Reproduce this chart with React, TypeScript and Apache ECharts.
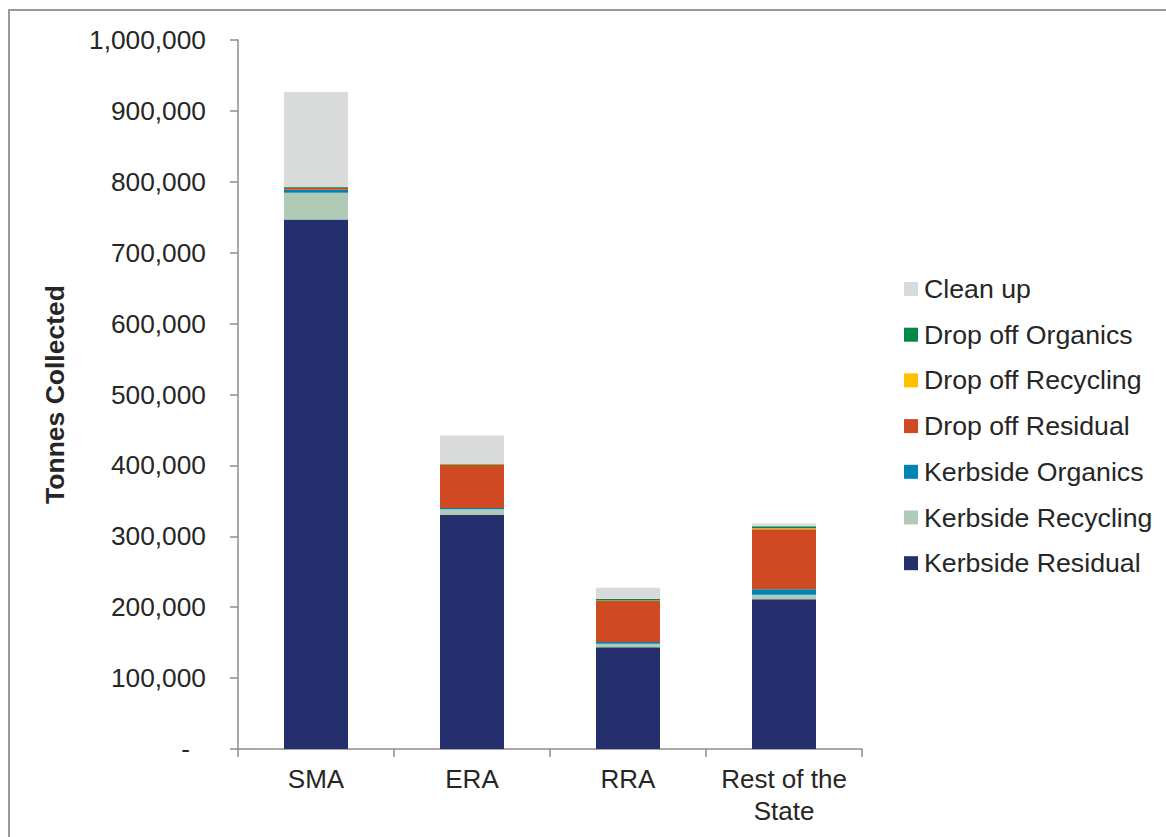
import React, { useEffect, useRef } from "react";
import * as echarts from "echarts";

const categories = ["SMA", "ERA", "RRA", "Rest of the\nState"];

const kerbsideResidual = [747000, 330000, 143400, 211100];
const kerbsideRecycling = [37500, 8000, 5100, 6500];
const kerbsideOrganics = [4200, 2000, 2400, 7600];
const dropOffResidual = [2500, 60600, 58300, 84600];
const dropOffRecycling = [500, 500, 300, 1400];
const dropOffOrganics = [1000, 1000, 2000, 2800];
const cleanUp = [134000, 40000, 16000, 4200];

const seriesDefs = [
  { name: "Kerbside Residual", data: kerbsideResidual, color: "#262F6E" },
  { name: "Kerbside Recycling", data: kerbsideRecycling, color: "#B0CBB5" },
  { name: "Kerbside Organics", data: kerbsideOrganics, color: "#0083B6" },
  { name: "Drop off Residual", data: dropOffResidual, color: "#CF4A22" },
  { name: "Drop off Recycling", data: dropOffRecycling, color: "#FFC000" },
  { name: "Drop off Organics", data: dropOffOrganics, color: "#00884A" },
  { name: "Clean up", data: cleanUp, color: "#D9DADA" },
];

const legendOrder = [
  "Clean up",
  "Drop off Organics",
  "Drop off Recycling",
  "Drop off Residual",
  "Kerbside Organics",
  "Kerbside Recycling",
  "Kerbside Residual",
];

const FONT = "'Liberation Sans', Arial, sans-serif";
const TEXT = "#262626";
const AXIS = "#8c8c8c";
const FS = 26;

export default function App() {
  const ref = useRef<HTMLDivElement>(null);
  useEffect(() => {
    document.body.style.margin = "0";
    const chart = echarts.init(ref.current!, null, { renderer: "svg" });
    chart.setOption({
      animation: false,
      textStyle: { fontFamily: FONT },
      graphic: [
        {
          type: "rect",
          shape: { x: 9, y: 10, width: 1300, height: 1000 },
          style: { fill: "none", stroke: "#999999", lineWidth: 2 },
          silent: true,
        },
      ],
      grid: { left: 238, top: 40, right: 304, bottom: 88 },
      legend: {
        orient: "vertical",
        left: 899,
        top: 270.5,
        itemWidth: 14,
        itemHeight: 14,
        itemGap: 18.7,
        icon: "rect",
        data: legendOrder,
        textStyle: {
          fontFamily: FONT,
          fontSize: 26.7,
          color: TEXT,
          lineHeight: 27,
          padding: [0, 0, 0, 1],
        },
      },
      xAxis: {
        type: "category",
        data: categories,
        axisLine: { lineStyle: { color: AXIS, width: 1.5 } },
        axisTick: { show: true, length: 8, lineStyle: { color: AXIS, width: 1.5 } },
        axisLabel: {
          fontFamily: FONT,
          fontSize: FS,
          color: TEXT,
          lineHeight: 32,
          margin: 14,
          interval: 0,
        },
      },
      yAxis: {
        type: "value",
        min: 0,
        max: 1000000,
        interval: 100000,
        name: "Tonnes Collected",
        nameLocation: "middle",
        nameGap: 170,
        nameTextStyle: {
          fontFamily: FONT,
          fontSize: 26.5,
          fontWeight: "bold",
          color: TEXT,
        },
        splitLine: { show: false },
        axisLine: { show: true, lineStyle: { color: AXIS, width: 1.5 } },
        axisTick: { show: true, length: 8, lineStyle: { color: AXIS, width: 1.5 } },
        axisLabel: {
          fontFamily: FONT,
          fontSize: 26.3,
          color: TEXT,
          margin: 32,
          formatter: (v: number) =>
            v === 0 ? "{d|-}" : v.toLocaleString("en-US"),
          rich: {
            d: {
              fontFamily: FONT,
              fontSize: 26.3,
              color: TEXT,
              padding: [0, 16, 0, 0],
            },
          },
        },
      },
      series: seriesDefs.map((s) => ({
        name: s.name,
        type: "bar",
        stack: "total",
        data: s.data,
        barWidth: 64,
        itemStyle: { color: s.color },
      })),
    });
    return () => chart.dispose();
  }, []);
  return <div ref={ref} style={{ width: 1166, height: 837 }} />;
}
